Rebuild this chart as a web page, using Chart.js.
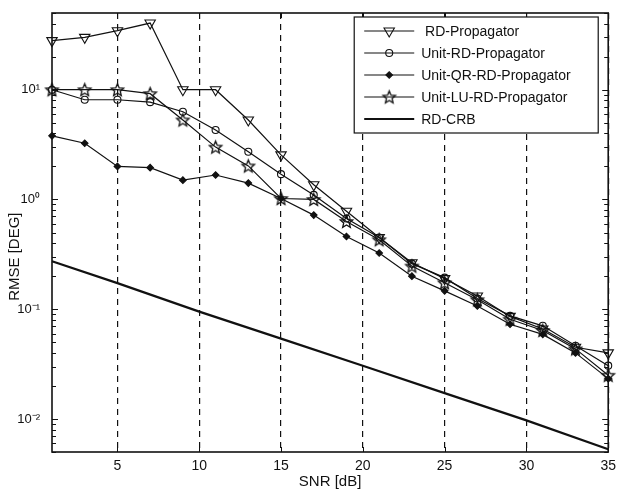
<!DOCTYPE html>
<html>
<head>
<meta charset="utf-8">
<script src="https://cdn.jsdelivr.net/npm/chart.js@4.4.1/dist/chart.umd.min.js"></script>
<style>
    html, body { margin: 0; padding: 0; background: #fff; }
    #wrap { width: 622px; height: 492px; }
</style>
</head>
<body>
<div id="wrap"><canvas id="rmseChart"></canvas></div>
<script>
const snr = [1, 3, 5, 7, 9, 11, 13, 15, 17, 19, 21, 23, 25, 27, 29, 31, 33, 35];
const rdPropagator = [28, 30, 34.5, 40.5, 10, 10, 5.3, 2.55, 1.36, 0.78, 0.45, 0.265, 0.19, 0.132, 0.086, 0.066, 0.045, 0.040];
const unitRdPropagator = [10, 8.1, 8.1, 7.7, 6.3, 4.3, 2.72, 1.7, 1.1, 0.67, 0.45, 0.26, 0.194, 0.125, 0.087, 0.0706, 0.0465, 0.0306];
const unitQrRdPropagator = [3.8, 3.25, 2.0, 1.95, 1.5, 1.67, 1.41, 1.02, 0.72, 0.46, 0.325, 0.2, 0.147, 0.107, 0.073, 0.059, 0.040, 0.0233];
const unitLuRdPropagator = [10, 10, 10, 9.2, 5.3, 3.0, 2.02, 1.02, 1.0, 0.63, 0.43, 0.247, 0.174, 0.122, 0.081, 0.064, 0.0435, 0.025];

const crbSnr = [1, 5, 10, 15, 20, 25, 30, 35];
const rdCrb = [0.274, 0.173, 0.095, 0.054, 0.0305, 0.0172, 0.0097, 0.0053];

const xTicks = [5, 10, 15, 20, 25, 30, 35];
const xTickLabels = ['5', '10', '15', '20', '25', '30', '35'];
const yTicks = [0.01, 0.1, 1, 10];
const yTickLabels = ['10\u207B\u00B2', '10\u207B\u00B9', '10\u2070', '10\u00B9'];
const yTitle = 'RMSE [DEG]';

const FONT = "'Liberation Sans', Arial, Helvetica, sans-serif";
const INK = '#111';

// open pentagram marker, like matlab 'p'
const makeStar = (r) => {
    const c = document.createElement('canvas');
    const s = Math.ceil(2 * r + 4);
    c.width = s; c.height = s;
    const g = c.getContext('2d');
    g.strokeStyle = INK;
    g.lineWidth = 1.3;
    g.beginPath();
    for (let i = 0; i < 10; i++) {
        const rad = i % 2 === 0 ? r : r * 0.45;
        const a = -Math.PI / 2 + i * Math.PI / 5;
        const px = s / 2 + rad * Math.cos(a);
        const py = s / 2 + 0.5 + rad * Math.sin(a);
        if (i === 0) g.moveTo(px, py); else g.lineTo(px, py);
    }
    g.closePath();
    g.stroke();
    return c;
};
const starMarker = makeStar(6.5);

const pts = (xs, ys) => xs.map((x, i) => ({ x: x, y: ys[i] }));

// frame + inward ticks like a matlab axes box
const axesBox = {
    id: 'axesBox',
    afterDatasetsDraw(chart) {
        const { ctx, chartArea: a, scales } = chart;
        ctx.save();
        ctx.strokeStyle = INK;
        ctx.lineWidth = 1;
        ctx.beginPath();
        for (let e = -3; e <= 1; e++) {
            for (let k = 1; k <= 9; k++) {
                const v = k * Math.pow(10, e);
                if (v < 0.005 || v > 50) continue;
                const y = Math.round(scales.y.getPixelForValue(v)) + 0.5;
                const len = k === 1 ? 6 : 4;
                ctx.moveTo(a.left, y); ctx.lineTo(a.left + len, y);
                ctx.moveTo(a.right, y); ctx.lineTo(a.right - len, y);
            }
        }
        xTicks.forEach(v => {
            const x = Math.round(scales.x.getPixelForValue(v)) + 0.5;
            ctx.moveTo(x, a.top); ctx.lineTo(x, a.top + 5);
            ctx.moveTo(x, a.bottom); ctx.lineTo(x, a.bottom - 5);
        });
        ctx.stroke();
        ctx.lineWidth = 1.6;
        ctx.strokeRect(a.left, a.top, a.right - a.left, a.bottom - a.top);

        // y axis title, sits a bit below the middle as in the figure
        ctx.translate(15, a.top + (a.bottom - a.top) * 0.555);
        ctx.rotate(-Math.PI / 2);
        ctx.font = '15px ' + FONT;
        ctx.fillStyle = INK;
        ctx.textAlign = 'center';
        ctx.textBaseline = 'middle';
        ctx.fillText(yTitle, 0, 0);
        ctx.restore();
    }
};

const legendBox = {
    id: 'legendBox',
    afterDraw(chart) {
        const { ctx, chartArea: a } = chart;
        const w = 244, h = 116;
        const x0 = a.right - 10 - w, y0 = a.top + 4;
        ctx.save();
        ctx.fillStyle = '#fff';
        ctx.fillRect(x0, y0, w, h);
        ctx.strokeStyle = INK;
        ctx.lineWidth = 1.2;
        ctx.strokeRect(x0, y0, w, h);
        ctx.font = '14px ' + FONT;
        ctx.textBaseline = 'middle';
        chart.data.datasets.forEach((ds, i) => {
            const y = y0 + 14 + i * 22;
            ctx.strokeStyle = ds.borderColor;
            ctx.lineWidth = ds.borderWidth;
            ctx.beginPath();
            ctx.moveTo(x0 + 10, y); ctx.lineTo(x0 + 60, y);
            ctx.stroke();
            if (ds.pointRadius > 0) {
                ctx.fillStyle = ds.pointBackgroundColor;
                ctx.strokeStyle = ds.pointBorderColor;
                ctx.lineWidth = ds.pointBorderWidth;
                Chart.helpers.drawPoint(ctx, {
                    pointStyle: ds.pointStyle,
                    rotation: ds.pointRotation || 0,
                    radius: ds.pointRadius,
                    borderWidth: ds.pointBorderWidth
                }, x0 + 35, y);
            }
            ctx.fillStyle = INK;
            ctx.fillText(ds.label, x0 + 67, y + 1);
        });
        ctx.restore();
    }
};

const rmseChart = () => {
    const ctx = document.getElementById('rmseChart').getContext('2d');

    const series = (label, data, style, radius, fill, extra) => Object.assign({
        label: label,
        data: pts(snr, data),
        borderColor: INK,
        borderWidth: 1.2,
        pointStyle: style,
        pointRadius: radius,
        pointHoverRadius: radius,
        pointBorderColor: INK,
        pointBorderWidth: 1.1,
        pointBackgroundColor: fill,
        clip: false,
    }, extra || {});

    new Chart(ctx, {
        type: 'line',
        data: {
            datasets: [
                series(' RD-Propagator', rdPropagator, 'triangle', 6, 'rgba(0,0,0,0)', { pointRotation: 180 }),
                series('Unit-RD-Propagator', unitRdPropagator, 'circle', 3.5, 'rgba(0,0,0,0)'),
                series('Unit-QR-RD-Propagator', unitQrRdPropagator, 'rectRot', 3.3, INK),
                series('Unit-LU-RD-Propagator', unitLuRdPropagator, starMarker, 6.5, 'rgba(0,0,0,0)'),
                {
                    label: 'RD-CRB',
                    data: pts(crbSnr, rdCrb),
                    borderColor: INK,
                    borderWidth: 2.2,
                    pointRadius: 0,
                    pointHoverRadius: 0,
                    clip: false,
                }
            ]
        },
        options: {
            responsive: true,
            maintainAspectRatio: false,
            animation: false,
            layout: { padding: { top: 13, right: 10, left: 0, bottom: 0 } },
            scales: {
                x: {
                    type: 'linear',
                    min: 1,
                    max: 35,
                    afterBuildTicks: (scale) => { scale.ticks = xTicks.map(v => ({ value: v })); },
                    afterFit: (scale) => { scale.height = 40; },
                    grid: {
                        color: INK,
                        lineWidth: 1.2,
                        drawTicks: false,
                    },
                    border: { display: false, dash: [6, 5] },
                    ticks: {
                        autoSkip: false,
                        maxRotation: 0,
                        padding: 6,
                        color: INK,
                        font: { family: FONT, size: 14 },
                        callback: (v, i) => xTickLabels[i],
                    },
                    title: {
                        display: true,
                        text: 'SNR [dB]',
                        color: INK,
                        font: { family: FONT, size: 15 },
                        padding: { top: 0, bottom: 1 },
                    }
                },
                y: {
                    type: 'logarithmic',
                    min: 0.005,
                    max: 50,
                    afterBuildTicks: (scale) => { scale.ticks = yTicks.map(v => ({ value: v })); },
                    afterFit: (scale) => { scale.width = 52; },
                    grid: { display: false },
                    border: { display: false },
                    ticks: {
                        autoSkip: false,
                        padding: 4,
                        color: INK,
                        font: { family: FONT, size: 13 },
                        callback: (v, i) => yTickLabels[i],
                    }
                }
            },
            plugins: {
                legend: { display: false },
                tooltip: { enabled: false },
            }
        },
        plugins: [axesBox, legendBox]
    });
}

document.addEventListener('DOMContentLoaded', rmseChart);
</script>
</body>
</html>
